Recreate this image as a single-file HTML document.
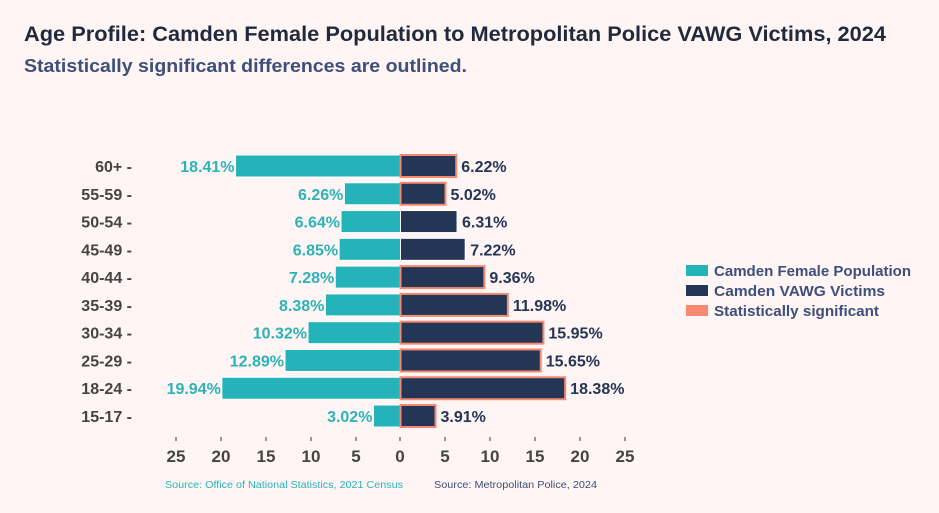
<!DOCTYPE html>
<html><head><meta charset="utf-8"><style>
body{margin:0;background:#fff5f5;}
svg{display:block;font-family:"Liberation Sans",sans-serif;}
</style></head><body>
<svg width="939" height="513" viewBox="0 0 939 513">
<rect width="939" height="513" fill="#fff5f5"/>
<text x="24" y="41" font-size="21" font-weight="bold" fill="#1f2a3c" textLength="862" lengthAdjust="spacingAndGlyphs">Age Profile: Camden Female Population to Metropolitan Police VAWG Victims, 2024</text>
<text x="24" y="72" font-size="18" font-weight="bold" fill="#3d4f7a" textLength="443" lengthAdjust="spacingAndGlyphs">Statistically significant differences are outlined.</text>
<g id="bars"></g>
<g stroke="#555" stroke-width="1.2">
<line x1="176" y1="437" x2="176" y2="441"/><line x1="221" y1="437" x2="221" y2="441"/><line x1="266" y1="437" x2="266" y2="441"/><line x1="311" y1="437" x2="311" y2="441"/><line x1="356" y1="437" x2="356" y2="441"/><line x1="400" y1="437" x2="400" y2="441"/><line x1="445" y1="437" x2="445" y2="441"/><line x1="490" y1="437" x2="490" y2="441"/><line x1="535" y1="437" x2="535" y2="441"/><line x1="580" y1="437" x2="580" y2="441"/><line x1="625" y1="437" x2="625" y2="441"/>
</g>
<g font-size="17" font-weight="bold" fill="#444" text-anchor="middle">
<text x="176" y="462">25</text><text x="221" y="462">20</text><text x="266" y="462">15</text><text x="311" y="462">10</text><text x="356" y="462">5</text><text x="400" y="462">0</text><text x="445" y="462">5</text><text x="490" y="462">10</text><text x="535" y="462">15</text><text x="580" y="462">20</text><text x="625" y="462">25</text>
</g>
<text x="165" y="488" font-size="10" fill="#2bb3b8" textLength="238" lengthAdjust="spacingAndGlyphs">Source: Office of National Statistics, 2021 Census</text>
<text x="434" y="488" font-size="10" fill="#3d4f7a" textLength="163" lengthAdjust="spacingAndGlyphs">Source: Metropolitan Police, 2024</text>
<rect x="686" y="265" width="22" height="11" fill="#24b3b8"/>
<rect x="686" y="285" width="22" height="11" fill="#243656"/>
<rect x="686" y="305" width="22" height="11" fill="#f58a70"/>
<g font-size="15" font-weight="bold" fill="#3d4f7a">
<text x="714" y="276" textLength="197" lengthAdjust="spacingAndGlyphs">Camden Female Population</text>
<text x="714" y="296" textLength="171" lengthAdjust="spacingAndGlyphs">Camden VAWG Victims</text>
<text x="714" y="316" textLength="165" lengthAdjust="spacingAndGlyphs">Statistically significant</text>
</g>
</svg>
<script>
var d=[["60+",18.41,6.22,1],["55-59",6.26,5.02,1],["50-54",6.64,6.31,0],["45-49",6.85,7.22,0],["40-44",7.28,9.36,1],["35-39",8.38,11.98,1],["30-34",10.32,15.95,1],["25-29",12.89,15.65,1],["18-24",19.94,18.38,1],["15-17",3.02,3.91,1]];
var s="",k=8.96,z=400.5;
d.forEach(function(r,i){var c=166+i*27.78,y=c-11;
var lw=r[1]*k,rw=r[2]*k;
s+='<rect x="'+(z-lw)+'" y="'+y+'" width="'+lw+'" height="22" fill="#24b3b8" stroke="#fff" stroke-width="1"/>';
s+='<rect x="'+z+'" y="'+y+'" width="'+rw+'" height="22" fill="#243656" stroke="'+(r[3]?'#f58a70':'#fff')+'" stroke-width="'+(r[3]?2:1)+'"/>';
s+='<text x="'+(z-lw-1)+'" y="'+(c+6)+'" font-size="16" font-weight="bold" fill="#2bb3b8" text-anchor="end">'+r[1].toFixed(2)+'%</text>';
s+='<text x="'+(z+rw+5)+'" y="'+(c+6)+'" font-size="16" font-weight="bold" fill="#243656">'+r[2].toFixed(2)+'%</text>';
s+='<text x="132" y="'+(c+6)+'" font-size="16" font-weight="bold" fill="#444" text-anchor="end">'+r[0]+' -</text>';
});
document.getElementById("bars").innerHTML=s;
</script>
</body></html>
